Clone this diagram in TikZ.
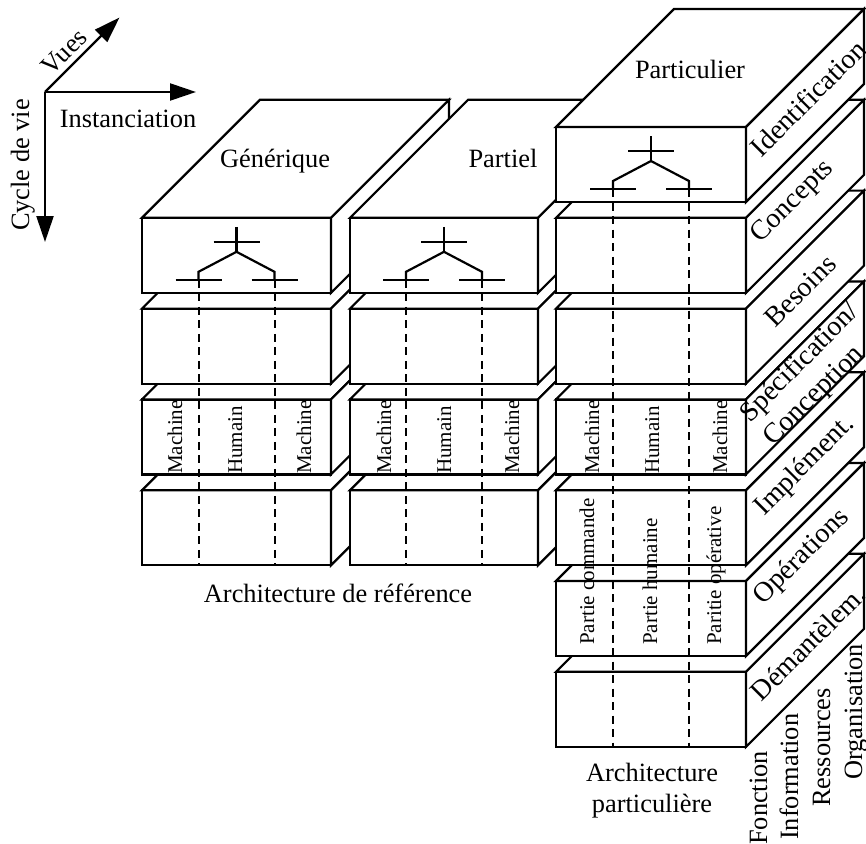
\documentclass[tikz,border=0pt]{standalone}
\usepackage{fontspec}
\setmainfont{Liberation Serif}
\usetikzlibrary{arrows.meta}

\tikzset{
  face/.style={draw=black, fill=white, line width=2.2pt},
  sym/.style={line width=2.2pt},
  guide/.style={line width=2pt, dash pattern=on 8pt off 5.5pt},
  axis/.style={line width=2.2pt, -{Triangle[length=26pt,width=17pt]}},
  big/.style={font=\fontsize{26.4}{31}\selectfont, inner sep=0pt},
  side/.style={font=\fontsize{28}{33}\selectfont, inner sep=0pt, rotate=45},
  small/.style={font=\fontsize{21}{25}\selectfont, inner sep=0pt, rotate=90, anchor=base west},
  viewlbl/.style={big, rotate=90, anchor=base west},
}

% one slab of a column: front face, top face and right face (oblique depth 118 at 45 degrees)
% #1 = left x, #2 = right x, #3 = top y of the front face
\newcommand{\drawslab}[3]{%
  \filldraw[face] (#1,#3) rectangle (#2,#3+75);
  \filldraw[face] (#1,#3) -- (#1+118,#3-118) -- (#2+118,#3-118) -- (#2,#3) -- cycle;
  \filldraw[face] (#2,#3) -- (#2+118,#3-118) -- (#2+118,#3-43) -- (#2,#3+75) -- cycle;
}

% decomposition symbol on the first slab of a column, with the two dashed
% partition lines running down to the bottom of the column
% #1 = centre x, #2 = top y of the slab, #3 = bottom y of the column
\newcommand{\drawtree}[3]{%
  \draw[sym] (#1,#2+9) -- (#1,#2+34);
  \draw[sym] (#1-23,#2+24) -- (#1+23,#2+24);
  \draw[sym] (#1-38,#2+62) -- (#1-38,#2+54) -- (#1,#2+34) -- (#1+38,#2+54) -- (#1+38,#2+62);
  \draw[sym] (#1-61,#2+62) -- (#1-15,#2+62);
  \draw[sym] (#1+15,#2+62) -- (#1+61,#2+62);
  \draw[guide] (#1-38,#2+62) -- (#1-38,#3);
  \draw[guide] (#1+38,#2+62) -- (#1+38,#3);
}

\begin{document}
\begin{tikzpicture}[x=1pt,y=-1pt]
\useasboundingbox (0,0) rectangle (866,843);

% ---- axes ----
\coordinate (O) at (45,92);
\coordinate (xtip) at (196,92);
\coordinate (ztip) at (45,242);
\coordinate (ytip) at (119.5,17.5);
\draw[axis] (O) -- (xtip);
\draw[axis] (O) -- (ztip);
\draw[axis] (O) -- (ytip);
\node[big, anchor=base] (inst) at (128,127) {Instanciation};
\node[big, rotate=90, anchor=base] (cycle) at (29,165) {Cycle de vie};
\node[big, rotate=45] (vues) at (64,52) {Vues};

% ---- slabs, drawn from the lowest level upwards, left to right ----
\foreach \t in {671.8,581.0} {\drawslab{556}{746}{\t}}
\foreach \t in {490.2,399.4,308.6,217.8} {%
  \drawslab{142}{331}{\t}
  \drawslab{350}{538}{\t}
  \drawslab{556}{746}{\t}
}
\drawslab{556}{746}{127}

% ---- decomposition symbols and partitions ----
\drawtree{236.5}{217.8}{565.2}
\drawtree{444}{217.8}{565.2}
\drawtree{651}{127}{746.8}

% ---- top face titles ----
\node[big, anchor=base] (gen) at (275,167) {Générique};
\node[big, anchor=base] (partiel) at (503,167) {Partiel};
\node[big, anchor=base] (partic) at (690,78) {Particulier};

% ---- partition labels ----
\node[small] (g1) at (182,474) {Machine};
\node[small] (g2) at (242,474) {Humain};
\node[small] (g3) at (311,474) {Machine};
\node[small] (p1) at (391,474) {Machine};
\node[small] (p2) at (451,474) {Humain};
\node[small] (p3) at (519,474) {Machine};
\node[small] (q1) at (599,474) {Machine};
\node[small] (q2) at (659,474) {Humain};
\node[small] (q3) at (727,474) {Machine};
\node[small] (r1) at (594,645) {Partie commande};
\node[small] (r2) at (657,645) {Partie humaine};
\node[small] (r3) at (721,645) {Paritie opérative};

% ---- life cycle phases on the right faces ----
\node[side] (ph1) at (808,98) {Identification};
\node[side] (ph2) at (793,202) {Concepts};
\node[side] (ph3) at (800,291) {Besoins};
\node[side, align=left] (ph4) at (812,375) {Spécification/\\Conception};
\node[side] (ph5) at (805,466) {Implément.};
\node[side] (ph6) at (802,557) {Opérations};
\node[side] (ph7) at (808,643) {Démantèlem.};

% ---- views ----
\node[viewlbl] (v1) at (767,845) {Fonction};
\node[viewlbl] (v2) at (798,840) {Information};
\node[viewlbl] (v3) at (830,807) {Ressources};
\node[viewlbl] (v4) at (862,780) {Organisation};

% ---- captions ----
\node[big, anchor=base] (archref) at (338,602) {Architecture de référence};
\node[big, anchor=base] (archp1) at (652,781) {Architecture};
\node[big, anchor=base] (archp2) at (652,812) {particulière};
\end{tikzpicture}
\end{document}
